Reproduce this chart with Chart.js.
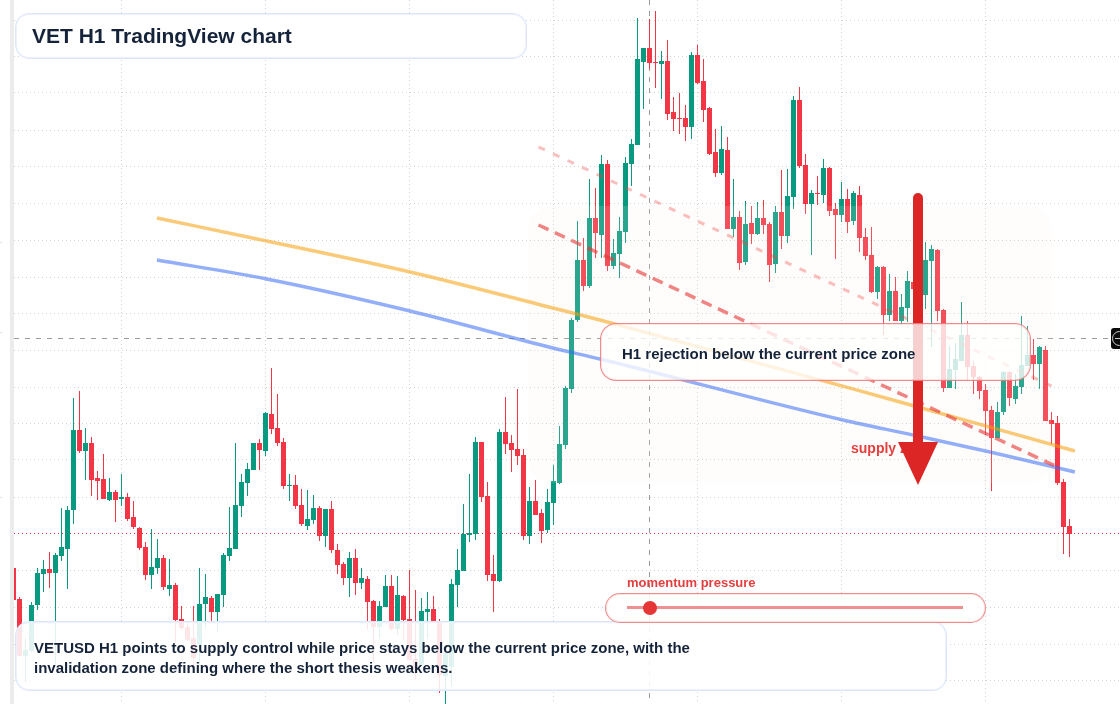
<!DOCTYPE html>
<html>
<head>
<meta charset="utf-8">
<title>VET H1 TradingView chart</title>
<script src="https://cdn.jsdelivr.net/npm/chart.js@4/dist/chart.umd.min.js"></script>
<style>
  html, body { margin: 0; padding: 0; background: #fff; }
  #stage { position: relative; width: 1120px; height: 704px; overflow: hidden; font-family: "Liberation Sans", Arial, sans-serif; }
  #stage canvas { position: absolute; left: 0; top: 0; }
  .rail { position: absolute; left: 10px; top: 0; width: 4px; height: 704px; background: #ececec; }
  .stub { position: absolute; left: 0; width: 2px; height: 1px; background: #e2e2e2; }
  .card { position: absolute; box-sizing: border-box; font-weight: 700; color: #15233a; }
  .card.plain { background: rgba(255,255,255,.88); border: 1px solid #dbe6fb; box-shadow: inset 0 0 0 1px #ecf1fd; border-radius: 14px; }
  .card.alert { background: rgba(255,255,255,.78); border: 1px solid rgba(229,62,62,.6); box-shadow: inset 0 0 0 1px rgba(239,68,68,.14); border-radius: 16px; }
  #title { left: 15px; top: 13px; width: 512px; height: 46px; font-size: 21px; line-height: 44px; padding-left: 16px; }
  #rejection { left: 600px; top: 323px; width: 431px; height: 58px; font-size: 15px; line-height: 60px; padding-left: 21px; }
  #thesis { left: 15px; top: 621px; width: 932px; height: 70px; font-size: 15px; line-height: 20px; padding: 16px 0 0 18px; }
  .tag { position: absolute; font-weight: 700; color: #e53e3e; white-space: nowrap; }
  #supply { left: 851px; top: 439px; font-size: 14px; line-height: 18px; }
  #pressure { left: 627px; top: 574px; font-size: 13px; line-height: 17px; }
  #arrow { position: absolute; left: 890px; top: 185px; }
  #gauge { position: absolute; box-sizing: border-box; left: 605px; top: 593px; width: 381px; height: 30px; border: 1px solid rgba(229,62,62,.6); box-shadow: inset 0 0 0 1px rgba(239,68,68,.14); border-radius: 15px; background: rgba(255,255,255,.85); }
  #track { position: absolute; left: 627px; top: 606px; width: 336px; height: 3px; background: rgba(220,38,38,.5); }
  #knob { position: absolute; left: 643px; top: 601px; width: 14px; height: 14px; border-radius: 7px; background: #e53535; }
  #priceTag { position: absolute; left: 1111px; top: 328px; width: 9px; height: 21px; background: #0b0b0b; border-radius: 3px 0 0 3px; overflow: hidden; }
  #priceTag i { position: absolute; box-sizing: border-box; left: 1px; top: 3px; width: 15px; height: 15px; border: 1.5px solid #ccc; border-radius: 50%; }
  #priceTag b { position: absolute; left: 4px; top: 10px; width: 5px; height: 1px; background: #ccc; }
</style>
</head>
<body>
<div id="stage">
  <canvas id="chart" width="1120" height="704"></canvas>
  <div class="rail"></div>
  <div class="stub" style="top:242px"></div>
  <div class="stub" style="top:332px"></div>
  <div class="stub" style="top:497px"></div>
  <div class="tag" id="supply">supply zone</div>
  <svg id="arrow" width="56" height="304" viewBox="0 0 56 304">
    <path d="M23 13a5 5 0 0 1 10 0V257H48L28 300L8 257H23Z" fill="#dc2626"/>
  </svg>
  <div class="card alert" id="rejection">H1 rejection below the current price zone</div>
  <div class="card plain" id="title">VET H1 TradingView chart</div>
  <div class="card plain" id="thesis">VETUSD H1 points to supply control while price stays below the current price zone, with the<br>invalidation zone defining where the short thesis weakens.</div>
  <div class="tag" id="pressure">momentum pressure</div>
  <div id="gauge"></div>
  <div id="track"></div>
  <div id="knob"></div>
  <div id="priceTag"><i></i><b></b></div>
</div>
<script>
// hourly candles, prices in ticks
const opens = [
  136,105,48,53,99,130,135,131,148,155,
  194,274,253,261,226,225,204,212,205,207,
  187,176,157,129,136,146,115,119,85,77,
  66,59,100,106,92,109,148,155,198,221,
  234,261,253,290,276,262,218,219,199,178,
  184,196,168,195,154,140,126,146,121,125,
  103,77,97,118,75,108,85,45,39,92,
  95,83,28,37,119,133,169,170,262,208,
  130,123,272,261,255,249,168,203,191,174,
  201,221,259,315,384,444,418,486,469,540,
  438,450,472,540,559,642,656,642,640,643,
  592,586,586,577,649,623,596,552,531,554,
  475,487,442,481,470,486,480,440,492,468,
  507,604,539,500,511,509,536,495,489,505,
  483,509,467,449,412,437,389,413,383,396,
  422,404,409,443,454,394,316,334,343,369,
  338,327,314,294,266,292,332,305,317,338,
  349,340,354,284,281,222,178
];
const closes = [
  104,48,54,99,131,135,131,149,157,194,
  274,253,261,224,223,205,212,204,207,185,
  177,156,129,137,146,117,119,84,76,64,
  46,100,107,92,110,149,156,199,222,235,
  261,254,291,275,261,218,219,198,180,185,
  196,168,195,154,139,126,146,121,126,102,
  77,98,118,75,109,84,44,34,93,95,
  82,29,51,120,134,170,171,262,207,129,
  123,272,260,254,248,168,203,189,173,202,
  223,260,316,384,444,418,486,471,540,438,
  451,473,541,560,645,656,641,641,643,590,
  585,585,577,649,621,594,550,531,555,475,
  487,441,480,470,486,479,439,492,468,508,
  604,538,500,511,510,536,493,489,505,482,
  511,466,448,412,437,389,413,383,397,423,
  415,426,444,455,393,316,335,345,369,337,
  327,313,293,266,292,332,306,318,339,349,
  340,357,283,280,221,177,170
];
const highs = [
  136,107,66,102,136,144,152,151,196,198,
  306,313,276,267,233,250,226,214,230,211,
  203,177,162,175,165,149,145,121,98,83,
  98,136,130,108,110,151,197,261,230,241,
  261,265,292,336,310,266,230,229,215,214,
  209,198,195,203,160,142,152,155,136,128,
  104,103,129,129,128,109,134,114,106,112,
  108,85,51,125,155,200,230,267,262,222,
  149,275,307,269,315,255,217,224,195,215,
  239,278,318,386,483,466,525,516,549,544,
  465,487,547,565,686,656,685,693,653,664,
  607,611,599,652,659,645,597,575,578,567,
  525,493,503,498,502,504,482,498,534,535,
  608,617,550,514,528,545,537,501,522,515,
  513,518,476,477,438,438,430,427,410,433,
  434,436,462,459,455,395,358,361,402,383,
  343,328,320,298,302,333,333,330,388,378,
  365,358,358,292,288,225,185
];
const lows = [
  104,48,22,52,94,112,116,39,143,115,
  180,251,224,208,204,205,203,182,198,183,
  175,154,124,115,130,114,108,61,74,63,
  39,39,76,82,72,97,143,155,187,208,
  234,234,248,270,258,215,203,195,178,174,
  180,163,157,151,130,119,107,109,115,74,
  42,65,97,73,69,64,44,25,39,65,
  82,11,0,18,97,133,162,164,202,123,
  92,122,250,232,239,164,160,189,161,171,
  179,220,255,311,382,413,416,446,446,433,
  435,426,461,518,559,595,635,616,605,584,
  573,570,563,565,620,582,549,527,529,475,
  467,434,439,460,469,470,422,431,455,461,
  495,536,490,449,499,501,488,445,482,471,
  479,452,444,411,405,369,383,383,379,382,
  404,394,395,357,383,312,316,315,343,323,
  310,305,269,213,266,289,298,300,310,338,
  324,315,283,260,219,150,147
];

// moving averages and the two descending rails: [candle index, price]
const slowAverage = [[23.9,486],[42.2,463],[66.1,432],[89.9,396],[97.75,384],[147.75,302],[176.9,253]];
const fastAverage = [[23.9,444],[42.2,425],[66.1,393],[89.9,356],[97.75,345],[138.25,284],[149.9,269],[162.75,252],[176.9,232]];
const upperRail = [[87.5,557],[173,318]];
const lowerRail = [[87.5,479],[174,237]];

const lastPrice = 170.5;
const crosshairPrice = 365.5;
const crosshairIndex = 106;

const gridIndexes = [18,42,66,90,114,138,162];
const gridPrices = [684,647,611,574,537,501,464,427,391,354,317,281,244,207,134,97,60,24];

// price and time box of the supply zone
const supplyZone = { from: 85.75, to: 173, top: 498, bottom: 221 };

const UP = '#089981';
const DOWN = '#f23645';
const indexMin = 1 / 12;
const indexMax = 184 + 5 / 12;

const candleColors = opens.map((o, i) => closes[i] >= o ? UP : DOWN);
const toPoints = rows => rows.map(([x, y]) => ({ x, y }));

const lineDefaults = {
  type: 'line',
  pointRadius: 0,
  tension: 0,
  fill: false
};

const zonePlugin = {
  id: 'supplyZone',
  beforeDatasetDraw(chart, args) {
    if (chart.data.datasets[args.index].label !== 'slow average') return;
    const { ctx, scales } = chart;
    const left = scales.x.getPixelForValue(supplyZone.from);
    const right = scales.x.getPixelForValue(supplyZone.to);
    const top = scales.y.getPixelForValue(supplyZone.top);
    const bottom = scales.y.getPixelForValue(supplyZone.bottom);
    ctx.save();
    ctx.fillStyle = 'rgba(255,240,225,0.14)';
    ctx.beginPath();
    ctx.roundRect(left, top, right - left, bottom - top, 24);
    ctx.fill();
    ctx.restore();
  }
};

new Chart(document.getElementById('chart'), {
  type: 'bar',
  data: {
    datasets: [
      {
        ...lineDefaults,
        label: 'crosshair time',
        data: [{ x: crosshairIndex, y: 704 }, { x: crosshairIndex, y: 2 }],
        borderColor: '#9a9a9a',
        borderWidth: 1,
        borderDash: [5, 6],
        order: 9
      },
      {
        ...lineDefaults,
        label: 'crosshair price',
        data: [{ x: indexMin, y: crosshairPrice }, { x: 183, y: crosshairPrice }],
        borderColor: '#9a9a9a',
        borderWidth: 1,
        borderDash: [5, 6],
        order: 9
      },
      {
        ...lineDefaults,
        label: 'last price',
        data: [{ x: indexMin, y: lastPrice }, { x: indexMax, y: lastPrice }],
        borderColor: DOWN,
        borderWidth: 1,
        borderDash: [1, 3],
        order: 8
      },
      {
        label: 'wicks',
        data: lows.map((l, i) => ({ x: i, y: [l, highs[i]] })),
        backgroundColor: candleColors,
        barThickness: 1,
        order: 7
      },
      {
        label: 'bodies',
        data: opens.map((o, i) => ({ x: i, y: [o, closes[i]] })),
        backgroundColor: candleColors,
        barThickness: 5,
        order: 6
      },
      {
        ...lineDefaults,
        label: 'slow average',
        data: toPoints(slowAverage),
        borderColor: 'rgba(245,158,11,0.55)',
        borderWidth: 3.5,
        cubicInterpolationMode: 'monotone',
        order: 5
      },
      {
        ...lineDefaults,
        label: 'fast average',
        data: toPoints(fastAverage),
        borderColor: 'rgba(59,110,246,0.55)',
        borderWidth: 3.5,
        cubicInterpolationMode: 'monotone',
        order: 4
      },
      {
        ...lineDefaults,
        label: 'upper rail',
        data: toPoints(upperRail),
        borderColor: 'rgba(239,68,68,0.35)',
        borderWidth: 3,
        borderDash: [7, 9],
        order: 3
      },
      {
        ...lineDefaults,
        label: 'lower rail',
        data: toPoints(lowerRail),
        borderColor: 'rgba(229,57,57,0.62)',
        borderWidth: 3.5,
        borderDash: [11, 7],
        order: 2
      }
    ]
  },
  options: {
    responsive: false,
    animation: false,
    devicePixelRatio: 1,
    events: [],
    grouped: false,
    borderWidth: 0,
    inflateAmount: 0,
    layout: { padding: { left: 14, right: 0, top: 0, bottom: 0 } },
    plugins: {
      legend: { display: false },
      title: { display: false },
      tooltip: { enabled: false }
    },
    scales: {
      x: {
        type: 'linear',
        min: indexMin,
        max: indexMax,
        offset: false,
        afterBuildTicks: axis => { axis.ticks = gridIndexes.map(value => ({ value })); },
        ticks: { display: false },
        border: { display: false, dash: [1, 3] },
        grid: { offset: false, color: '#d2d2d2', lineWidth: 1, drawTicks: false }
      },
      y: {
        type: 'linear',
        min: 0,
        max: 704,
        afterBuildTicks: axis => { axis.ticks = gridPrices.map(value => ({ value })); },
        ticks: { display: false },
        border: { display: false, dash: [1, 3] },
        grid: { color: '#d2d2d2', lineWidth: 1, drawTicks: false }
      }
    }
  },
  plugins: [zonePlugin]
});
</script>
</body>
</html>
